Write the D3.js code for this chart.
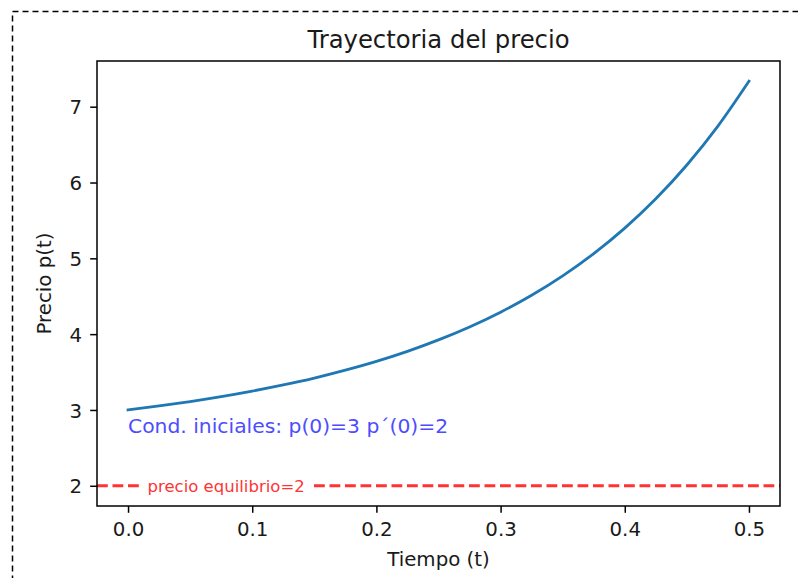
<!DOCTYPE html>
<html>
<head>
<meta charset="utf-8">
<script src="https://cdn.jsdelivr.net/npm/d3@7"></script>
<style>
  html, body { margin: 0; padding: 0; background: #fff; }
  svg { display: block; }
  text { font-family: "DejaVu Sans", sans-serif; }
</style>
</head>
<body>
<div id="container"></div>
<script>
// values
const tValues = [0, 0.025, 0.05, 0.075, 0.1, 0.125, 0.15, 0.175, 0.2, 0.225, 0.25,
  0.275, 0.3, 0.325, 0.35, 0.375, 0.4, 0.425, 0.45, 0.475, 0.5];
const priceValues = [3.0, 3.053, 3.111, 3.176, 3.249, 3.33, 3.421, 3.525, 3.641, 3.773, 3.924,
  4.095, 4.29, 4.513, 4.769, 5.062, 5.398, 5.785, 6.231, 6.744, 7.336];
const equilibrium = 2;
const xTicks = [0, 0.1, 0.2, 0.3, 0.4, 0.5];
const yTicks = [2, 3, 4, 5, 6, 7];
const condText = "Cond. iniciales: p(0)=3 p\u00b4(0)=2";
const condPos = [0, 2.7];
const eqText = "precio equilibrio=2";
const eqPos = [0.079, 2];

const width = 798, height = 578;
const plot = { left: 97, right: 780, top: 61, bottom: 506 };

const svg = d3.select("#container").append("svg")
  .attr("width", width)
  .attr("height", height);

// notebook cell frame
svg.append("rect")
  .attr("x", 12.5).attr("y", 11.5)
  .attr("width", 820).attr("height", 600)
  .attr("fill", "none")
  .attr("stroke", "#000")
  .attr("stroke-width", 1.5)
  .attr("stroke-dasharray", "6,4");

// matplotlib style 5% margins
const xMin = d3.min(tValues), xMax = d3.max(tValues);
const yMin = Math.min(equilibrium, d3.min(priceValues)), yMax = d3.max(priceValues);
const xPad = (xMax - xMin) * 0.05, yPad = (yMax - yMin) * 0.05;

const x = d3.scaleLinear().domain([xMin - xPad, xMax + xPad]).range([plot.left, plot.right]);
const y = d3.scaleLinear().domain([yMin - yPad, yMax + yPad]).range([plot.bottom, plot.top]);

// axes
const xAxis = svg.append("g")
  .attr("transform", `translate(0,${plot.bottom})`)
  .call(d3.axisBottom(x).tickValues(xTicks).tickFormat(d3.format(".1f")).tickSize(6.8).tickPadding(9));
const yAxis = svg.append("g")
  .attr("transform", `translate(${plot.left},0)`)
  .call(d3.axisLeft(y).tickValues(yTicks).tickFormat(d3.format("d")).tickSize(6.8).tickPadding(8));

for (const g of [xAxis, yAxis]) {
  g.select(".domain").remove();
  g.selectAll(".tick line").attr("stroke", "#000").attr("stroke-width", 1.5);
  g.selectAll(".tick text").attr("fill", "#1a1a1a").style("font-size", "19.8px")
    .style("font-family", "DejaVu Sans");
}
yAxis.selectAll(".tick text").attr("dy", "0.36em");

// equilibrium line
svg.append("line")
  .attr("x1", plot.left).attr("x2", plot.right)
  .attr("y1", y(equilibrium)).attr("y2", y(equilibrium))
  .attr("stroke", "#ff3333")
  .attr("stroke-width", 2.9)
  .attr("stroke-dasharray", "10.8,4.7");

// price path
const line = d3.line()
  .x((d, i) => x(tValues[i]))
  .y(d => y(d))
  .curve(d3.curveMonotoneX);

svg.append("path")
  .datum(priceValues)
  .attr("d", line)
  .attr("fill", "none")
  .attr("stroke", "#1f77b4")
  .attr("stroke-width", 2.8)
  .attr("stroke-linecap", "square");

// label of equilibrium with white box
const eqLabel = svg.append("text")
  .attr("x", x(eqPos[0]))
  .attr("y", y(eqPos[1]))
  .attr("dy", "0.36em")
  .attr("text-anchor", "middle")
  .attr("fill", "#ff3333")
  .style("font-size", "16.5px")
  .text(eqText);
const bb = eqLabel.node().getBBox();
svg.insert("rect", () => eqLabel.node())
  .attr("x", bb.x - 8).attr("y", bb.y - 3)
  .attr("width", bb.width + 16).attr("height", bb.height + 6)
  .attr("fill", "#fff");

svg.append("text")
  .attr("x", x(condPos[0]))
  .attr("y", y(condPos[1]))
  .attr("fill", "#4d4dff")
  .style("font-size", "20.3px")
  .text(condText);

// frame
svg.append("rect")
  .attr("x", plot.left).attr("y", plot.top)
  .attr("width", plot.right - plot.left)
  .attr("height", plot.bottom - plot.top)
  .attr("fill", "none")
  .attr("stroke", "#000")
  .attr("stroke-width", 1.5);

// titles
svg.append("text")
  .attr("x", (plot.left + plot.right) / 2)
  .attr("y", 48)
  .attr("text-anchor", "middle")
  .attr("fill", "#1a1a1a")
  .style("font-size", "24.3px")
  .text("Trayectoria del precio");

svg.append("text")
  .attr("x", (plot.left + plot.right) / 2)
  .attr("y", 566)
  .attr("text-anchor", "middle")
  .attr("fill", "#1a1a1a")
  .style("font-size", "19.8px")
  .text("Tiempo (t)");

svg.append("text")
  .attr("transform", `translate(51,${(plot.top + plot.bottom) / 2}) rotate(-90)`)
  .attr("text-anchor", "middle")
  .attr("fill", "#1a1a1a")
  .style("font-size", "19.8px")
  .text("Precio p(t)");
</script>
</body>
</html>
